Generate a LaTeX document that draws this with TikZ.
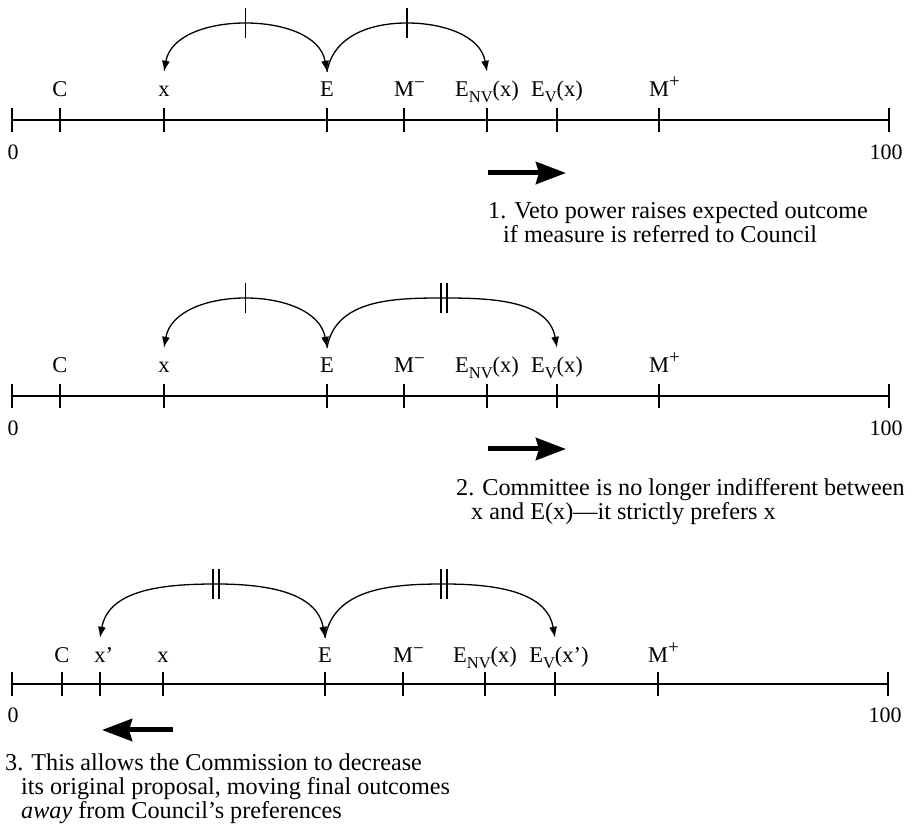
\documentclass[tikz,border=0pt]{standalone}
\usepackage{fontspec}
\setmainfont{Liberation Serif}
\usetikzlibrary{arrows.meta}
\newcommand\subs[1]{\raisebox{-0.26em}{\fontsize{16.5}{16.5}\selectfont #1}}
\newcommand\Mminus{M\rlap{\raisebox{0.38em}{\fontsize{19}{19}\selectfont −}}}
\newcommand\Mplus{M\rlap{\raisebox{0.42em}{\fontsize{19}{19}\selectfont +}}}
\tikzset{
  axisline/.style={line width=2.8pt},
  tickmark/.style={line width=2.6pt},
  lab/.style={anchor=base, inner xsep=0pt, inner ysep=10pt, text height=15pt, text depth=5pt, font=\fontsize{22.5}{24}\selectfont},
  numlab/.style={inner sep=0pt, font=\fontsize{22}{24}\selectfont},
  arcline/.style={line width=1.3pt, >={Latex[length=11pt,width=8pt]}},
  arctick/.style={line width=1.1pt},
  bigarrow/.style={line width=5pt, -{Stealth[length=30pt,width=22pt,inset=3pt]}},
  note/.style={anchor=base west, inner sep=0pt, font=\fontsize{24.2}{24}\selectfont}
}
\begin{document}
\begin{tikzpicture}[x=1pt,y=1pt]
\useasboundingbox (0,0) rectangle (912,829);
% ---------------- Panel 1 ----------------
\begin{scope}[shift={(0,709)}]
  \draw[axisline] (12,0) -- (889,0);
  \foreach \p in {12,60,164,327,404,487,557,659,889}
    \draw[tickmark] (\p,-12) -- (\p,12);
  \node[lab] (aC) at (60,23) {C};
  \node[lab] (ax) at (164,23) {x};
  \node[lab] (aE) at (327,23) {E};
  \node[lab] (aMm) at (404,23) {\Mminus};
  \node[lab] (aENV) at (487,23) {E\subs{NV}(x)};
  \node[lab] (aEV) at (557,23) {E\subs{V}(x)};
  \node[lab] (aMp) at (659,23) {\Mplus};
  \node[numlab] (a0) at (13,-32) {0};
  \node[numlab] (a100) at (886,-32) {100};
  \coordinate (am1) at (245.5,97);
  \coordinate (am2) at (407,97);
  \draw[arcline,<->] (ax.north) to[out=80,in=180] (am1) to[out=0,in=100] (aE.north);
  \draw[arcline,->] (aE.north) to[out=80,in=180] (am2) to[out=0,in=100] (aENV.north);
  \draw[arctick] (am1) ++(0,-15) -- ++(0,30);
  \draw[arctick] (am2) ++(0,-15) -- ++(0,30);
  \coordinate (aas) at (488,-53);
  \coordinate (aae) at (566,-53);
  \draw[bigarrow] (aas) -- (aae);
  \node[note] (at1) at (488,-99) {1. Veto power raises expected outcome};
  \node[note] (at2) at (503,-123) {if measure is referred to Council};
\end{scope}
% ---------------- Panel 2 ----------------
\begin{scope}[shift={(0,433)}]
  \draw[axisline] (12,0) -- (889,0);
  \foreach \p in {12,60,164,327,404,487,557,659,889}
    \draw[tickmark] (\p,-12) -- (\p,12);
  \node[lab] (bC) at (60,23) {C};
  \node[lab] (bx) at (164,23) {x};
  \node[lab] (bE) at (327,23) {E};
  \node[lab] (bMm) at (404,23) {\Mminus};
  \node[lab] (bENV) at (487,23) {E\subs{NV}(x)};
  \node[lab] (bEV) at (557,23) {E\subs{V}(x)};
  \node[lab] (bMp) at (659,23) {\Mplus};
  \node[numlab] (b0) at (13,-32) {0};
  \node[numlab] (b100) at (886,-32) {100};
  \coordinate (bm1) at (245.5,98);
  \coordinate (bm2) at (444,98);
  \draw[arcline,<->] (bx.north) to[out=80,in=180] (bm1) to[out=0,in=100] (bE.north);
  \draw[arcline,->] (bE.north) to[out=80,in=180] (bm2) to[out=0,in=100] (bEV.north);
  \draw[arctick] (bm1) ++(0,-15) -- ++(0,30);
  \draw[arctick] (bm2) ++(-3,-15) -- ++(0,30);
  \draw[arctick] (bm2) ++(3,-15) -- ++(0,30);
  \coordinate (bas) at (488,-53);
  \coordinate (bae) at (566,-53);
  \draw[bigarrow] (bas) -- (bae);
  \node[note] (bt1) at (456,-100) {2. Committee is no longer indifferent between};
  \node[note] (bt2) at (471,-124) {x and E(x)—it strictly prefers x};
\end{scope}
% ---------------- Panel 3 ----------------
\begin{scope}[shift={(0,145)}]
  \draw[axisline] (12,0) -- (888,0);
  \foreach \p in {12,62,100,163,325,403,485,555,658,888}
    \draw[tickmark] (\p,-12) -- (\p,12);
  \node[lab] (cC) at (62,21) {C};
  \node[lab] (cxp) at (100,21) {x\rlap{’}};
  \node[lab] (cx) at (163,21) {x};
  \node[lab] (cE) at (325,21) {E};
  \node[lab] (cMm) at (403,21) {\Mminus};
  \node[lab] (cENV) at (485,21) {E\subs{NV}(x)};
  \node[lab] (cEV) at (559,21) {E\subs{V}(x’)};
  \node[lab] (cMp) at (658,21) {\Mplus};
  \node[numlab] (c0) at (13,-31) {0};
  \node[numlab] (c100) at (885,-31) {100};
  \coordinate (cm1) at (216,100);
  \coordinate (cm2) at (444,100);
  \draw[arcline,<->] (cxp.north) to[out=80,in=180] (cm1) to[out=0,in=100] (cE.north);
  \draw[arcline,->] (cE.north) to[out=80,in=180] (cm2) to[out=0,in=100] ([xshift=-4pt]cEV.north);
  \draw[arctick] (cm1) ++(-3,-15) -- ++(0,30);
  \draw[arctick] (cm1) ++(3,-15) -- ++(0,30);
  \draw[arctick] (cm2) ++(-3,-15) -- ++(0,30);
  \draw[arctick] (cm2) ++(3,-15) -- ++(0,30);
  \coordinate (cas) at (173,-46);
  \coordinate (cae) at (102,-46);
  \draw[bigarrow] (cas) -- (cae);
  \node[note] (ct1) at (5,-87) {3. This allows the Commission to decrease};
  \node[note] (ct2) at (21,-111) {its original proposal, moving final outcomes};
  \node[note] (ct3) at (21,-135) {\textit{away} from Council’s preferences};
\end{scope}
\end{tikzpicture}
\end{document}
